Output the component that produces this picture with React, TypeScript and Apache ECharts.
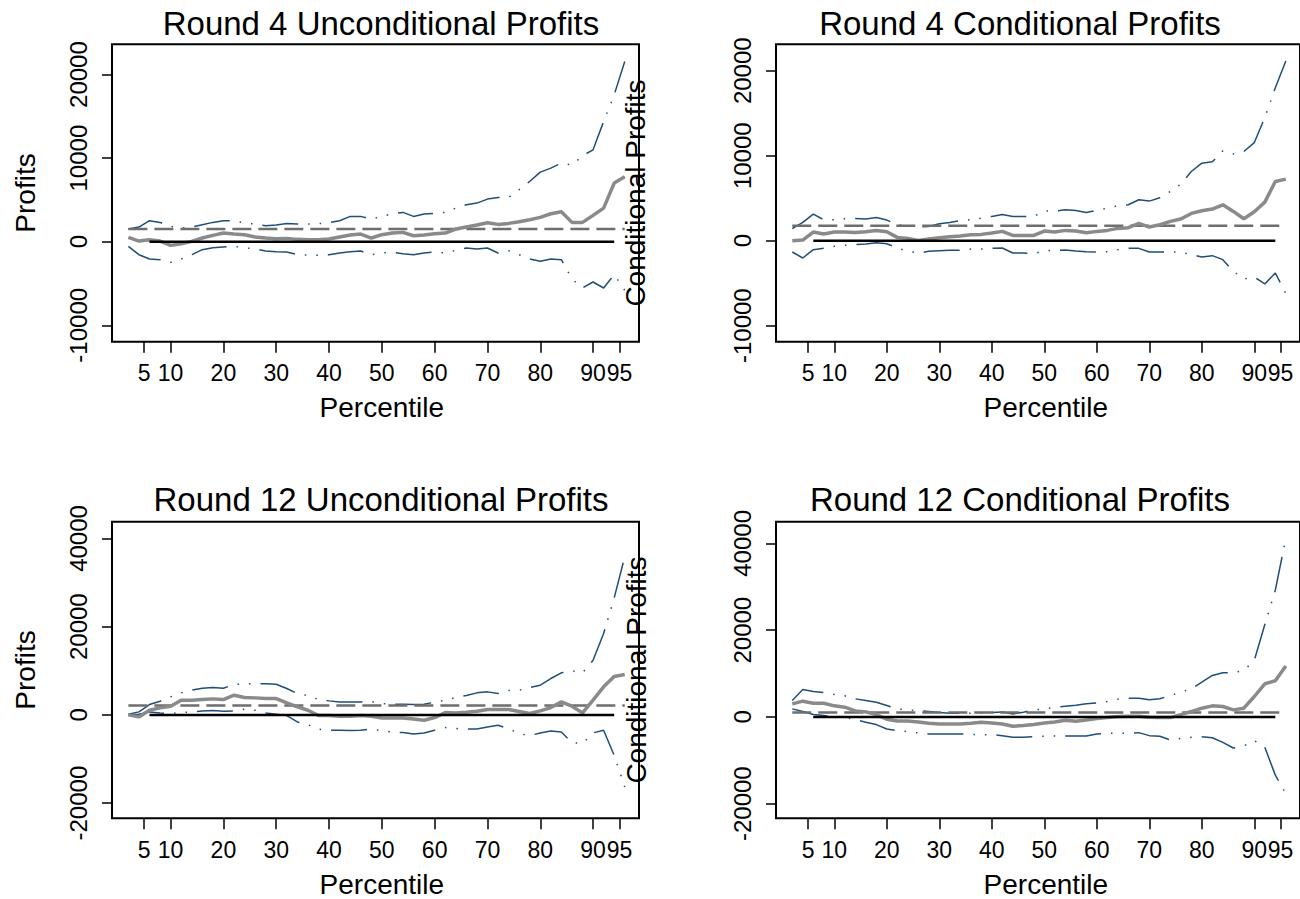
import React, { useEffect, useRef } from "react";
import * as echarts from "echarts";

// ---------- data ----------
const percentiles = [2, 4, 6, 8, 10, 12, 14, 16, 18, 20, 22, 24, 26, 28, 30, 32, 34, 36, 38, 40, 42, 44, 46, 48, 50, 52, 54, 56, 58, 60, 62, 64, 66, 68, 70, 72, 74, 76, 78, 80, 82, 84, 86, 88, 90, 92, 94, 96];
const xTickValues = [5, 10, 20, 30, 40, 50, 60, 70, 80, 90, 95];
const yTicksRound4 = [-10000, 0, 10000, 20000];
const yTicksRound12 = [-20000, 0, 20000, 40000];
const zeroLineSpan = [6, 94];

// Round 4 Unconditional
const r4uEst = [518, 80, 239, 80, -438, -239, 40, 438, 757, 1036, 916, 837, 558, 438, 359, 398, 279, 239, 239, 319, 558, 797, 916, 438, 837, 1036, 1116, 717, 797, 956, 1036, 1514, 1753, 1992, 2271, 2072, 2191, 2390, 2629, 2908, 3347, 3586, 2311, 2311, 3147, 4024, 7012, 7769];
const r4uUpper = [1514, 1753, 2510, 2311, 1833, 1633, 1753, 2032, 2311, 2510, 2510, 2231, 2112, 1912, 1992, 2191, 2112, 2112, 2151, 2271, 2510, 3028, 3028, 2709, 3028, 3347, 3506, 3028, 3307, 3387, 3506, 4024, 4422, 4621, 5100, 5299, 5299, 6215, 7211, 8327, 8805, 9402, 9163, 10279, 10996, 14382, 17570, 21553];
const r4uLower = [-558, -1554, -2072, -2151, -2470, -2072, -1554, -956, -717, -637, -558, -717, -876, -1116, -1195, -1235, -1554, -1594, -1633, -1554, -1355, -1195, -1116, -1554, -1355, -1275, -1434, -1554, -1355, -1235, -1355, -1036, -757, -876, -757, -1355, -1076, -1554, -2072, -2350, -2072, -2151, -4462, -5538, -4821, -5538, -3944, -5817];
const r4uOls = 1514;

// Round 4 Conditional
const r4cEst = [0, 78, 1018, 783, 1018, 1018, 979, 1057, 1213, 1057, 392, 274, 39, 196, 352, 470, 548, 705, 744, 900, 1096, 626, 626, 626, 1135, 1018, 1213, 1135, 940, 1096, 1213, 1448, 1526, 2035, 1605, 1879, 2270, 2544, 3209, 3523, 3718, 4227, 3444, 2583, 3405, 4540, 6967, 7241];
const r4cUpper = [1409, 2153, 3131, 2466, 2466, 2583, 2622, 2544, 2740, 2427, 1879, 1761, 1605, 1683, 1996, 2153, 2348, 2466, 2662, 2857, 3092, 2857, 2857, 2857, 3483, 3483, 3640, 3562, 3327, 3562, 3836, 4110, 4227, 4814, 4658, 5049, 5793, 6654, 8141, 9120, 9276, 10568, 10216, 10490, 11546, 14483, 18004, 21136];
const r4cLower = [-1331, -2035, -1057, -900, -665, -548, -470, -391, -235, -352, -861, -1252, -1448, -1252, -1174, -1135, -1135, -979, -979, -900, -861, -1448, -1448, -1526, -1174, -1135, -1096, -1213, -1292, -1331, -1292, -1057, -900, -900, -1331, -1331, -1331, -1331, -1644, -1918, -1761, -2231, -3601, -4501, -4266, -5088, -3797, -6223];
const r4cOls = 1761;

// Round 12 Unconditional
const r12uEst = [0, -454, 1059, 1589, 1967, 3330, 3330, 3481, 3632, 3481, 4465, 3935, 3859, 3708, 3708, 2724, 1816, 1059, -151, -151, -303, -303, -151, -303, -681, -681, -681, -908, -1211, -605, 530, 454, 605, 833, 1211, 1211, 1211, 757, 303, 908, 1665, 2951, 1967, 454, 3330, 6356, 8702, 9156];
const r12uUpper = [151, 681, 2346, 3102, 4086, 4994, 5600, 6054, 6205, 6054, 6886, 7037, 7113, 7037, 6962, 5978, 4843, 4389, 3481, 3178, 2951, 2951, 2951, 3027, 2573, 2421, 2421, 2346, 2421, 2875, 3329, 3935, 4389, 4994, 5221, 4843, 5524, 5600, 6205, 6735, 8248, 9534, 9988, 9534, 12410, 18463, 26500, 35868];
const r12uLower = [0, 151, 681, 454, 303, 530, 681, 908, 984, 832, 908, 1286, 1059, 454, 151, -151, -1589, -2200, -3254, -3481, -3481, -3556, -3481, -3178, -3632, -3859, -4011, -4313, -4086, -3481, -2875, -3102, -3178, -3178, -2724, -2346, -3102, -4237, -4692, -4086, -3632, -3859, -6281, -6508, -4086, -3481, -9156, -16345];
const r12uOls = 2119;

// Round 12 Conditional
const r12cEst = [3008, 3625, 3162, 3162, 2545, 2237, 1388, 1157, 540, -540, -925, -925, -1157, -1466, -1620, -1620, -1620, -1466, -1234, -1388, -1620, -2160, -2005, -1774, -1388, -1157, -771, -1003, -694, -386, -154, 77, 154, 154, -77, -154, -154, 540, 1234, 2005, 2545, 2391, 1620, 2005, 4705, 7636, 8330, 11724];
const r12cUpper = [3779, 6325, 5862, 5631, 5168, 4859, 4165, 3779, 3394, 2622, 1851, 1620, 1466, 1234, 1003, 848, 848, 848, 926, 1003, 1157, 694, 1080, 1620, 1851, 2237, 2468, 2700, 3008, 3239, 3548, 4088, 4319, 4319, 3934, 4165, 4936, 5708, 6479, 8022, 9564, 10181, 10181, 10721, 13035, 21288, 29232, 41187];
const r12cLower = [1851, 1234, 540, 309, 77, -154, -617, -1234, -1774, -2777, -3162, -3394, -3702, -3934, -3934, -3934, -3934, -4011, -4088, -4088, -4319, -4705, -4705, -4551, -4474, -4396, -4396, -4396, -4396, -3934, -3779, -3779, -3779, -3625, -4319, -4474, -5322, -4936, -4705, -4551, -4800, -5862, -7173, -6710, -5476, -7019, -13420, -17663];
const r12cOls = 1003;

// ---------- layout / style ----------
const FONT = '"Liberation Sans", Arial, Helvetica, sans-serif';
const CI_COLOR = "#1f4e79";
const EST_COLOR = "#8a8a8a";
const OLS_COLOR = "#6e6e6e";

const panels = [
  { title: "Round 4 Unconditional Profits", yName: "Profits", est: r4uEst, upper: r4uUpper, lower: r4uLower, ols: r4uOls, yTicks: yTicksRound4, yMin: -11966, yMax: 23621, left: 112, top: 44.3, height: 297.4, yNameX: 25, titleX: 381, titleY: 23 },
  { title: "Round 4 Conditional Profits", yName: "Conditional Profits", est: r4cEst, upper: r4cUpper, lower: r4cLower, ols: r4cOls, yTicks: yTicksRound4, yMin: -11882, yMax: 23106, left: 776, top: 44.3, height: 297.4, yNameX: 635, titleX: 1020, titleY: 23 },
  { title: "Round 12 Unconditional Profits", yName: "Profits", est: r12uEst, upper: r12uUpper, lower: r12uLower, ols: r12uOls, yTicks: yTicksRound12, yMin: -23443, yMax: 43800, left: 112, top: 521.7, height: 296.6, yNameX: 25, titleX: 381, titleY: 499 },
  { title: "Round 12 Conditional Profits", yName: "Conditional Profits", est: r12cEst, upper: r12cUpper, lower: r12cLower, ols: r12cOls, yTicks: yTicksRound12, yMin: -23376, yMax: 45000, left: 776, top: 521.7, height: 296.6, yNameX: 636, titleX: 1020, titleY: 499 },
];
const PANEL_WIDTH = 527;
const X_MIN = -1.1;
const X_MAX = 98.7;

function buildOption() {
  const grid: any[] = [];
  const xAxis: any[] = [];
  const yAxis: any[] = [];
  const series: any[] = [];
  const graphic: any[] = [];

  panels.forEach((p, i) => {
    grid.push({
      left: p.left,
      top: p.top,
      width: PANEL_WIDTH,
      height: p.height,
      show: true,
      borderColor: "#000",
      borderWidth: 2,
      backgroundColor: "transparent",
      containLabel: false,
    });
    xAxis.push({
      type: "value",
      gridIndex: i,
      min: X_MIN,
      max: X_MAX,
      axisLine: { show: false, onZero: false },
      axisTick: { show: true, length: 11, lineStyle: { color: "#000", width: 1.5 }, customValues: xTickValues },
      axisLabel: {
        customValues: xTickValues, fontSize: 23, color: "#000", fontFamily: FONT, margin: 20,
        hideOverlap: false, showMinLabel: true, showMaxLabel: true,
        formatter: (v: number) => String(v),
      },
      splitLine: { show: false },
    });
    yAxis.push({
      type: "value",
      gridIndex: i,
      min: p.yMin,
      max: p.yMax,
      axisLine: { show: false, onZero: false },
      axisTick: { show: true, length: 10, lineStyle: { color: "#000", width: 1.5 }, customValues: p.yTicks },
      axisLabel: {
        customValues: p.yTicks, rotate: 90, fontSize: 24, color: "#000", fontFamily: FONT, margin: 22,
        hideOverlap: false, showMinLabel: true, showMaxLabel: true,
        formatter: (v: number) => String(v),
      },
      splitLine: { show: false },
    });

    const pts = (vals: number[]) => percentiles.map((x, j) => [x, vals[j]]);
    const base = { type: "line", xAxisIndex: i, yAxisIndex: i, symbol: "none", showSymbol: false, silent: true, clip: true };
    series.push({ ...base, name: `upper${i}`, data: pts(p.upper), lineStyle: { color: CI_COLOR, width: 1.5, type: [36, 10, 1.5, 10, 1.5, 10] }, z: 2 });
    series.push({ ...base, name: `lower${i}`, data: pts(p.lower), lineStyle: { color: CI_COLOR, width: 1.5, type: [36, 10, 1.5, 10, 1.5, 10] }, z: 2 });
    series.push({ ...base, name: `ols${i}`, data: [[percentiles[0], p.ols], [percentiles[percentiles.length - 1], p.ols]], lineStyle: { color: OLS_COLOR, width: 2.5, type: [19, 7] }, z: 3 });
    series.push({ ...base, name: `est${i}`, data: pts(p.est), lineStyle: { color: EST_COLOR, width: 3.5 }, z: 4 });
    series.push({ ...base, name: `zero${i}`, data: [[zeroLineSpan[0], 0], [zeroLineSpan[1], 0]], lineStyle: { color: "#000", width: 2.5 }, z: 5 });

    const bottom = p.top + p.height;
    const yCenter = p.top + p.height / 2;
    graphic.push({
      type: "text", z: 100, x: p.titleX, y: p.titleY,
      style: { text: p.title, fontSize: 33, fontFamily: FONT, fill: "#000", align: "center", verticalAlign: "middle" },
    });
    graphic.push({
      type: "text", z: 100, x: p.left + 5.28 * (50 - X_MIN), y: bottom + 66,
      style: { text: "Percentile", fontSize: 28, fontFamily: FONT, fill: "#000", align: "center", verticalAlign: "middle" },
    });
    graphic.push({
      type: "text", z: 100, x: p.yNameX, y: yCenter, rotation: Math.PI / 2,
      style: { text: p.yName, fontSize: 28, fontFamily: FONT, fill: "#000", align: "center", verticalAlign: "middle" },
    });
  });

  return {
    animation: false,
    backgroundColor: "#fff",
    textStyle: { fontFamily: FONT },
    grid,
    xAxis,
    yAxis,
    series,
    graphic,
  };
}

export default function App() {
  const ref = useRef<HTMLDivElement>(null);
  useEffect(() => {
    if (!ref.current) return;
    const chart = echarts.init(ref.current, undefined, { renderer: "svg" });
    chart.setOption(buildOption() as any);
    return () => chart.dispose();
  }, []);
  return <div ref={ref} style={{ position: "fixed", left: 0, top: 0, width: 1300, height: 899, background: "#fff" }} />;
}
